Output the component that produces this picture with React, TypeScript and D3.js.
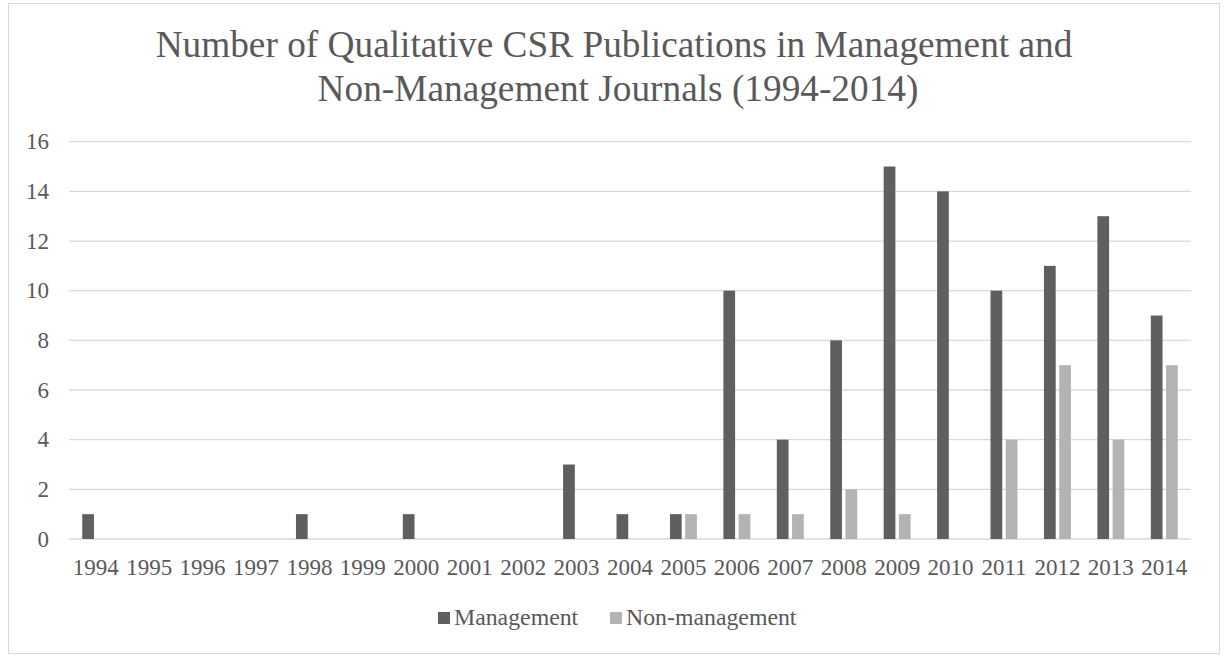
import React from 'react'
import { scaleBand, scaleLinear } from 'd3'

const years = ['1994', '1995', '1996', '1997', '1998', '1999', '2000', '2001', '2002', '2003', '2004',
  '2005', '2006', '2007', '2008', '2009', '2010', '2011', '2012', '2013', '2014']
const management = [1, 0, 0, 0, 1, 0, 1, 0, 0, 3, 1, 1, 10, 4, 8, 15, 14, 10, 11, 13, 9]
const nonManagement = [0, 0, 0, 0, 0, 0, 0, 0, 0, 0, 0, 1, 1, 1, 2, 1, 0, 4, 7, 4, 7]
const yTicks = [0, 2, 4, 6, 8, 10, 12, 14, 16]
const seriesNames = ['Management', 'Non-management']
const seriesColors = ['#5f5f5f', '#b3b3b3']

const width = 1225
const height = 656
const margin = { top: 141.7, right: 1191, bottom: 539, left: 69 }
const textStyle = { fontFamily: "'Liberation Serif', 'Times New Roman', serif" }
const textColor = '#595959'

function App() {
  const xScale = scaleBand().domain(years).range([margin.left, margin.right])
  const xInner = scaleBand()
    .domain(seriesNames)
    .range([0, xScale.bandwidth()])
    .paddingInner(0.23)
    .paddingOuter(0.87)
  const yScale = scaleLinear().domain([0, 16]).range([margin.bottom, margin.top])

  const series = [management, nonManagement]

  return (
    <svg width={width} height={height} style={{ position: 'absolute', left: 0, top: 0 }}>
      <rect x={0} y={0} width={width} height={height} fill="#fff" />
      <rect x={8.5} y={3.5} width={1211} height={650} fill="#fff" stroke="#d9d9d9" />

      <text x={614} y={56.7} textAnchor="middle" fontSize={37.3} fill={textColor} style={textStyle}>
        Number of Qualitative CSR Publications in Management and
      </text>
      <text x={618} y={100.5} textAnchor="middle" fontSize={37.3} fill={textColor} style={textStyle}>
        Non-Management Journals (1994-2014)
      </text>

      {yTicks.map(t => (
        <g key={t} transform={`translate(0,${yScale(t)})`}>
          <line x1={margin.left} x2={margin.right} stroke="#d9d9d9" strokeWidth={1.3} />
          <text x={49} dy="0.33em" textAnchor="end" fontSize={23} fill={textColor} style={textStyle}>{t}</text>
        </g>
      ))}

      {years.map((yr, i) => (
        <g key={yr} transform={`translate(${xScale(yr)},0)`}>
          {series.map((vals, s) => (
            vals[i] > 0 ? (
              <rect
                key={s}
                x={xInner(seriesNames[s])}
                y={yScale(vals[i])}
                width={xInner.bandwidth()}
                height={yScale(0) - yScale(vals[i])}
                fill={seriesColors[s]}
              />
            ) : null
          ))}
          <text x={xScale.bandwidth() / 2} y={575} textAnchor="middle" fontSize={23} fill={textColor} style={textStyle}>{yr}</text>
        </g>
      ))}

      <g transform="translate(438,612)">
        <rect x={0} y={0} width={12} height={12} fill={seriesColors[0]} />
        <text x={16} y={13} fontSize={23.8} fill={textColor} style={textStyle}>{seriesNames[0]}</text>
        <rect x={172} y={0} width={12} height={12} fill={seriesColors[1]} />
        <text x={188} y={13} fontSize={23.8} fill={textColor} style={textStyle}>{seriesNames[1]}</text>
      </g>
    </svg>
  )
}

export default App
